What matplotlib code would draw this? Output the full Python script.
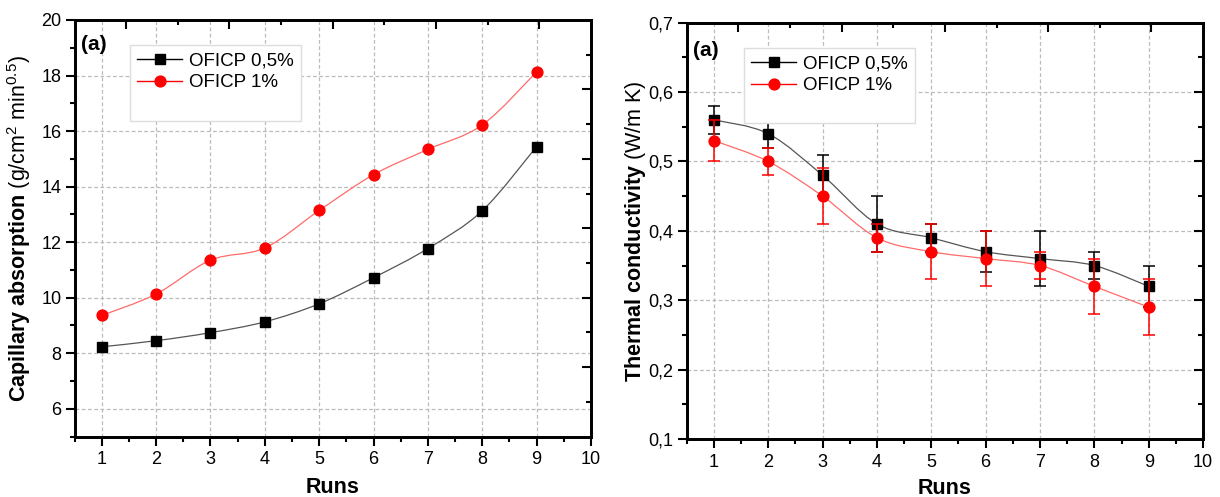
import numpy as np
import matplotlib
matplotlib.use("Agg")
import matplotlib.pyplot as plt
from matplotlib.path import Path
from matplotlib.patches import PathPatch
from matplotlib.lines import Line2D
from matplotlib.ticker import FixedLocator, MultipleLocator

plt.rcParams['font.family'] = ['Liberation Sans', 'DejaVu Sans']
plt.rcParams['mathtext.fontset'] = 'custom'
plt.rcParams['mathtext.rm'] = 'Liberation Sans'
plt.rcParams['mathtext.bf'] = 'Liberation Sans:bold'
plt.rcParams['mathtext.it'] = 'Liberation Sans:italic'

# ---------------- data ----------------
runs = [1, 2, 3, 4, 5, 6, 7, 8, 9]
series_names = ["OFICP 0,5%", "OFICP 1%"]

cap_05 = [8.23, 8.45, 8.74, 9.13, 9.78, 10.72, 11.77, 13.13, 15.44]
cap_1 = [9.36, 10.13, 11.35, 11.79, 13.14, 14.43, 15.34, 16.22, 18.13]

tc_05 = [0.56, 0.54, 0.48, 0.41, 0.39, 0.37, 0.36, 0.35, 0.32]
tc_05_err = [0.02, 0.02, 0.03, 0.04, 0.02, 0.03, 0.04, 0.02, 0.03]
tc_1 = [0.53, 0.50, 0.45, 0.39, 0.37, 0.36, 0.35, 0.32, 0.29]
tc_1_err = [0.03, 0.02, 0.04, 0.02, 0.04, 0.04, 0.02, 0.04, 0.04]

x_ticks = [1, 2, 3, 4, 5, 6, 7, 8, 9, 10]
cap_ticks = [6, 8, 10, 12, 14, 16, 18, 20]
tc_ticks = [0.1, 0.2, 0.3, 0.4, 0.5, 0.6, 0.7]
tc_ticklabels = ["0,1", "0,2", "0,3", "0,4", "0,5", "0,6", "0,7"]

BLACK_LINE = "#555555"
RED_LINE = "#ff6a6a"
TICK_FS = 13
LABEL_FS = 15.5
LEG_FS = 13.5


def smooth_path(x, y):
    x = np.asarray(x, float)
    y = np.asarray(y, float)
    pts = np.column_stack([x, y])
    n = len(pts)
    verts = [pts[0]]
    codes = [Path.MOVETO]
    for i in range(n - 1):
        p0 = pts[i - 1] if i > 0 else pts[i]
        p1 = pts[i]
        p2 = pts[i + 1]
        p3 = pts[i + 2] if i + 2 < n else pts[i + 1]
        c1 = p1 + (p2 - p0) / 6.0
        c2 = p2 - (p3 - p1) / 6.0
        verts += [c1, c2, p2]
        codes += [Path.CURVE4] * 3
    return Path(verts, codes)


def style_axes(ax, xlim, ylim):
    ax.set_xlim(*xlim)
    ax.set_ylim(*ylim)
    for s in ax.spines.values():
        s.set_linewidth(1.8)
    ax.tick_params(which='major', direction='out', length=6.5, width=1.5,
                   labelsize=TICK_FS, top=False, right=False)
    ax.tick_params(axis='x', which='major', pad=4)
    ax.tick_params(axis='y', which='major', pad=3)
    ax.tick_params(which='minor', direction='out', length=3.5, width=1.5,
                   top=False, right=False)
    ax.grid(True, which='major', linestyle=(0, (3, 2)), color='#bbbbbb',
            linewidth=0.9)
    ax.set_axisbelow(True)
    # mirrored inward ticks on top / right
    tx = ax.twiny()
    tx.set_xlim(0, 10)
    tx.xaxis.set_major_locator(FixedLocator([1, 3, 5, 7, 9]))
    tx.xaxis.set_minor_locator(FixedLocator([2, 4, 6, 8]))
    tx.tick_params(which='major', direction='in', length=6.5, width=1.5,
                   labeltop=False)
    tx.tick_params(which='minor', direction='in', length=3.5, width=1.5)
    ty = ax.twinx()
    ty.set_ylim(0, 12)
    ty.yaxis.set_major_locator(FixedLocator([2, 4, 6, 8, 10]))
    ty.yaxis.set_minor_locator(FixedLocator([1, 3, 5, 7, 9, 11]))
    ty.tick_params(which='major', direction='in', length=6.5, width=1.5,
                   labelright=False)
    ty.tick_params(which='minor', direction='in', length=3.5, width=1.5)
    for t in (tx, ty):
        for s in t.spines.values():
            s.set_linewidth(1.8)
        t.patch.set_visible(False)


def add_legend(ax, anchor):
    handles = [Line2D([], [], color='black', marker='s', ms=7.2, lw=1),
               Line2D([], [], color='red', marker='o', ms=7.8, lw=1),
               Line2D([], [], color='none')]
    leg = ax.legend(handles, series_names + [""], loc='upper left',
                    bbox_to_anchor=anchor, fontsize=LEG_FS, frameon=True,
                    fancybox=False, edgecolor='#dddddd', framealpha=1,
                    handlelength=2.4, borderpad=0.4, labelspacing=0.25,
                    handletextpad=0.35, borderaxespad=0)
    leg.get_frame().set_linewidth(1.0)
    return leg


fig = plt.figure(figsize=(12.2, 4.97), dpi=100)
ax1 = fig.add_axes([0.0611, 0.1217, 0.4233, 0.8381])
ax2 = fig.add_axes([0.5629, 0.1167, 0.4232, 0.8376])

# ---------------- left: capillary absorption ----------------
ax1.add_patch(PathPatch(smooth_path(runs, cap_05), facecolor='none',
                        edgecolor=BLACK_LINE, lw=0.9, zorder=3))
ax1.add_patch(PathPatch(smooth_path(runs, cap_1), facecolor='none',
                        edgecolor=RED_LINE, lw=0.9, zorder=3))
ax1.plot(runs, cap_05, linestyle='none', marker='s', ms=7.2,
         color='black', zorder=4)
ax1.plot(runs, cap_1, linestyle='none', marker='o', ms=7.8,
         color='red', zorder=4)
ax1.set_xticks(x_ticks)
ax1.xaxis.set_minor_locator(MultipleLocator(0.5))
ax1.set_yticks(cap_ticks)
ax1.yaxis.set_minor_locator(MultipleLocator(1))
style_axes(ax1, (0.5, 10), (5, 20))
ax1.set_xlabel("Runs", fontsize=LABEL_FS, fontweight='bold')
ax1.xaxis.set_label_coords(0.5, -0.098)
ax1.set_ylabel(r"$\bf{Capillary\ absorption}$ (g/cm$^2$ min$^{0.5}$)",
               fontsize=LABEL_FS)
ax1.yaxis.set_label_coords(-0.080, 0.5)
ax1.text(0.012, 0.965, "(a)", transform=ax1.transAxes, fontsize=15,
         fontweight='bold', va='top', ha='left')
add_legend(ax1, (0.107, 0.94))

# ---------------- right: thermal conductivity ----------------
ax2.add_patch(PathPatch(smooth_path(runs, tc_05), facecolor='none',
                        edgecolor=BLACK_LINE, lw=0.9, zorder=3))
ax2.add_patch(PathPatch(smooth_path(runs, tc_1), facecolor='none',
                        edgecolor=RED_LINE, lw=0.9, zorder=3))
ax2.errorbar(runs, tc_05, yerr=tc_05_err, linestyle='none', marker='s',
             ms=7.2, color='black', ecolor='black', elinewidth=1.1,
             capsize=4.5, capthick=1.1, zorder=4)
ax2.errorbar(runs, tc_1, yerr=tc_1_err, linestyle='none', marker='o',
             ms=7.8, color='red', ecolor='red', elinewidth=1.1,
             capsize=4.5, capthick=1.1, zorder=5)
ax2.set_xticks(x_ticks)
ax2.xaxis.set_minor_locator(MultipleLocator(0.5))
ax2.set_yticks(tc_ticks)
ax2.set_yticklabels(tc_ticklabels)
ax2.yaxis.set_minor_locator(MultipleLocator(0.05))
style_axes(ax2, (0.5, 10), (0.1, 0.7))
ax2.set_xlabel("Runs", fontsize=LABEL_FS, fontweight='bold')
ax2.xaxis.set_label_coords(0.5, -0.094)
ax2.set_ylabel(r"$\bf{Thermal\ conductivity}$ (W/m K)",
               fontsize=LABEL_FS)
ax2.yaxis.set_label_coords(-0.075, 0.5)
ax2.text(0.012, 0.955, "(a)", transform=ax2.transAxes, fontsize=15,
         fontweight='bold', va='top', ha='left')
add_legend(ax2, (0.11, 0.94))

fig.savefig("out.png", dpi=100)
